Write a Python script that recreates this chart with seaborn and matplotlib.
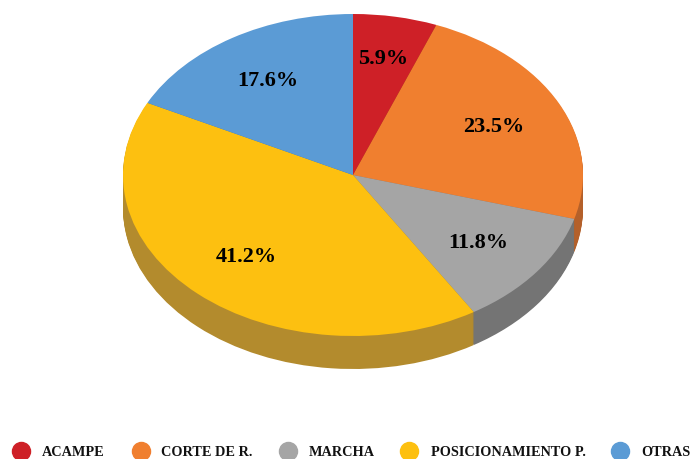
import matplotlib
matplotlib.use("Agg")
import matplotlib.pyplot as plt
from matplotlib.lines import Line2D
from matplotlib.transforms import Affine2D
import seaborn as sns

categories = ["ACAMPE", "CORTE DE R.", "MARCHA", "POSICIONAMIENTO P.", "OTRAS"]
values = [5.9, 23.5, 11.8, 41.2, 17.6]
labels = ["5.9%", "23.5%", "11.8%", "41.2%", "17.6%"]
top_colors = ["#CE2027", "#F07F2F", "#A5A5A5", "#FDC010", "#5B9BD5"]
side_colors = ["#8E1A1E", "#B4602A", "#747474", "#B38B2D", "#41719C"]

sns.set_theme(style="white")
plt.rcParams["font.family"] = ["Liberation Serif", "DejaVu Serif"]

W, H = 691, 459
fig = plt.figure(figsize=(W / 100, H / 100), dpi=100, facecolor="white")
ax = fig.add_axes([0, 0, 1, 1])

RX, RY = 230, 161
CX, CY = 353, 175
DEPTH = 33

for d in range(DEPTH, 0, -1):
    ax.pie(values, startangle=90, counterclock=False, colors=side_colors,
           center=(CX, H - CY - d), radius=1, wedgeprops=dict(linewidth=0))

ax.pie(values, startangle=90, counterclock=False, colors=top_colors,
       center=(CX, H - CY), radius=1, wedgeprops=dict(linewidth=0))

# stretch every wedge into the perspective ellipse
for p in ax.patches:
    c = p.center
    p.set_center((0, 0))
    p.set_transform(Affine2D().scale(RX, RY).translate(*c) + ax.transData)

ax.set_aspect("auto")
ax.set_xlim(0, W)
ax.set_ylim(0, H)
ax.axis("off")

label_pos = [(383, 59.5), (494, 126.5), (478, 242.5), (246, 257.5), (268, 81.5)]
for (x, y), t in zip(label_pos, labels):
    ax.text(x, H - y, t, ha="center", va="center", fontsize=16, fontweight="bold", color="black")

marker_x = [21, 141, 288, 409, 620]
text_x = [42, 161, 309, 431, 641]
for mx, tx, name, col in zip(marker_x, text_x, categories, top_colors):
    ax.add_line(Line2D([mx], [H - 451], marker="o", markersize=13, color=col, linestyle="none"))
    ax.text(tx, H - 452, name, ha="left", va="center", fontsize=10.3, fontweight="bold", color="#111111")

fig.savefig("out.png", dpi=100)
